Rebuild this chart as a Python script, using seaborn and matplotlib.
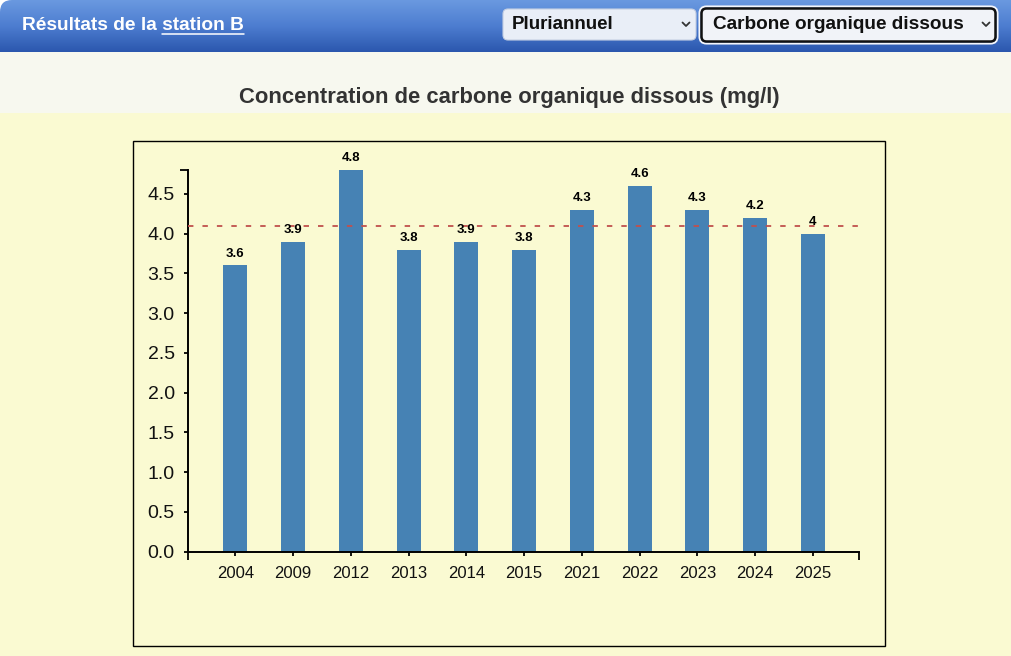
import numpy as np
import pandas as pd
import matplotlib
matplotlib.use("Agg")
import matplotlib.pyplot as plt
import matplotlib.transforms as mtransforms
from matplotlib.patches import Rectangle, FancyBboxPatch
from matplotlib.lines import Line2D
from matplotlib.colors import LinearSegmentedColormap
import seaborn as sns

# ---------------- data ----------------
years = ['2004', '2009', '2012', '2013', '2014', '2015', '2021', '2022', '2023', '2024', '2025']
values = [3.6, 3.9, 4.8, 3.8, 3.9, 3.8, 4.3, 4.6, 4.3, 4.2, 4.0]
reference_value = 4.1
yticks = [0.0, 0.5, 1.0, 1.5, 2.0, 2.5, 3.0, 3.5, 4.0, 4.5]
title = "Concentration de carbone organique dissous (mg/l)"
header_text = "Résultats de la station B"
header_link = "station B"
select1 = "Pluriannuel"
select2 = "Carbone organique dissous"

sns.set_style("ticks")
plt.rcParams['font.family'] = ['Liberation Sans', 'DejaVu Sans']

W, H = 1011, 656
fig = plt.figure(figsize=(W / 100, H / 100), dpi=100)
fig.patch.set_facecolor('#fafad2')

# pixel transform (x from left, y from top)
P = mtransforms.Affine2D().scale(1 / W, -1 / H).translate(0, 1) + fig.transFigure

# header gradient with rounded top-left corner
hax = fig.add_axes([0, 1 - 52 / H, 1, 52 / H])
cmap = LinearSegmentedColormap.from_list('hdr', ['#6a99e0', '#4d7dd0', '#2b57ae'])
grad = np.linspace(0, 1, 200).reshape(-1, 1)
im = hax.imshow(grad, aspect='auto', cmap=cmap, extent=[0, W, 52, 0], origin='upper')
hax.set_xlim(0, W)
hax.set_ylim(52, 0)
clip = FancyBboxPatch((0, 0), W + 20, 72, boxstyle="round,pad=0,rounding_size=12",
                      transform=hax.transData, facecolor='none', edgecolor='none')
hax.add_patch(clip)
im.set_clip_path(clip)
hax.set_axis_off()
fig.add_artist(Rectangle((0, 0), 14, 14, transform=P, facecolor='white',
                         edgecolor='none', zorder=-1))

# off-white band below header
fig.add_artist(Rectangle((0, 52), W, 61, transform=P, facecolor='#f7f8ef',
                         edgecolor='none', zorder=0))

# header text with underlined link
r = fig.canvas.get_renderer()
hfs = 13.8
t_full = fig.text(22, 25, header_text, transform=P, color='white', fontsize=hfs,
                  fontweight='bold', ha='left', va='center')
bb_full = t_full.get_window_extent(r)
t_tmp = fig.text(0, 0, header_link, fontsize=hfs, fontweight='bold')
wl = t_tmp.get_window_extent(r).width
t_tmp.remove()
x1 = bb_full.x1
fig.add_artist(Line2D([x1 - wl, x1], [33.5, 33.5], transform=P, color='white', lw=1.1))

# select boxes
fig.add_artist(FancyBboxPatch((503, 9), 193, 31, boxstyle="round,pad=0,rounding_size=5",
                              transform=P, facecolor='#e9eef7', edgecolor='#c5cfe2', lw=0.8))
fig.add_artist(FancyBboxPatch((699.5, 6.5), 298, 37, boxstyle="round,pad=0,rounding_size=7",
                              transform=P, facecolor='none', edgecolor='#f4f6fb', lw=1.5))
fig.add_artist(FancyBboxPatch((701.5, 8.5), 294, 33, boxstyle="round,pad=0,rounding_size=5",
                              transform=P, facecolor='#f1f3f8', edgecolor='#111111', lw=1.8))
fig.text(512, 24.5, select1, transform=P, fontsize=13.5, fontweight='bold',
         color='#111111', ha='left', va='center')
fig.text(713, 24.5, select2, transform=P, fontsize=13.7, fontweight='bold',
         color='#111111', ha='left', va='center')
for cx in (686, 986):
    fig.add_artist(Line2D([cx - 3.5, cx, cx + 3.5], [22.5, 26, 22.5], transform=P,
                          color='#333333', lw=1.3, solid_capstyle='round'))

# chart title
fig.text(509, 97, title, transform=P, fontsize=15.8, fontweight='bold',
         color='#333333', ha='center', va='center')

# chart frame
fig.add_artist(Rectangle((133, 141), 752, 505, transform=P, facecolor='none',
                         edgecolor='black', lw=1.0))

# ---------------- chart ----------------
ax = fig.add_axes([188 / W, 1 - 551.7 / H, (859 - 188) / W, (551.7 - 170) / H])
ax.set_facecolor('none')
df = pd.DataFrame({'annee': years, 'valeur': values})
sns.barplot(data=df, x='annee', y='valeur', color='#4682b4', saturation=1,
            width=0.415, ax=ax, zorder=2, linewidth=0, edgecolor='none')
xl, xr = -0.82, 10.80
ax.set_xlim(xl, xr)
ax.set_ylim(0, 4.8)
ax.set_xlabel('')
ax.set_ylabel('')

ax.axhline(reference_value, color='#c0504d', lw=1.3,
           linestyle=(0, (3.0, 5.0)), zorder=3)

ax.bar_label(ax.containers[0], labels=[f"{v:g}" for v in values], padding=4.0,
             fontsize=9.5, fontweight='bold', color='black')

ax.set_yticks(yticks)
ax.set_yticklabels([f"{v:.1f}" for v in yticks])
ax.set_xticks(range(len(years)))
ax.set_xticklabels(years)
ax.set_xticks([xl, xr], minor=True)
ax.set_yticks([0, 4.8], minor=True)

for s in ('top', 'right'):
    ax.spines[s].set_visible(False)
for s in ('left', 'bottom'):
    ax.spines[s].set_color('black')
    ax.spines[s].set_linewidth(1.4)

ax.tick_params(axis='y', which='major', length=3, width=1.3, pad=6.5, labelsize=14,
               colors='black', labelcolor='#111111', direction='out')
ax.tick_params(axis='x', which='major', length=3, width=1.3, pad=7.0, labelsize=12,
               colors='black', labelcolor='#111111', direction='out')
ax.tick_params(axis='both', which='minor', length=6, width=1.3, colors='black',
               direction='out')
ax.grid(False)

fig.savefig('out.png', dpi=100, facecolor=fig.get_facecolor())
